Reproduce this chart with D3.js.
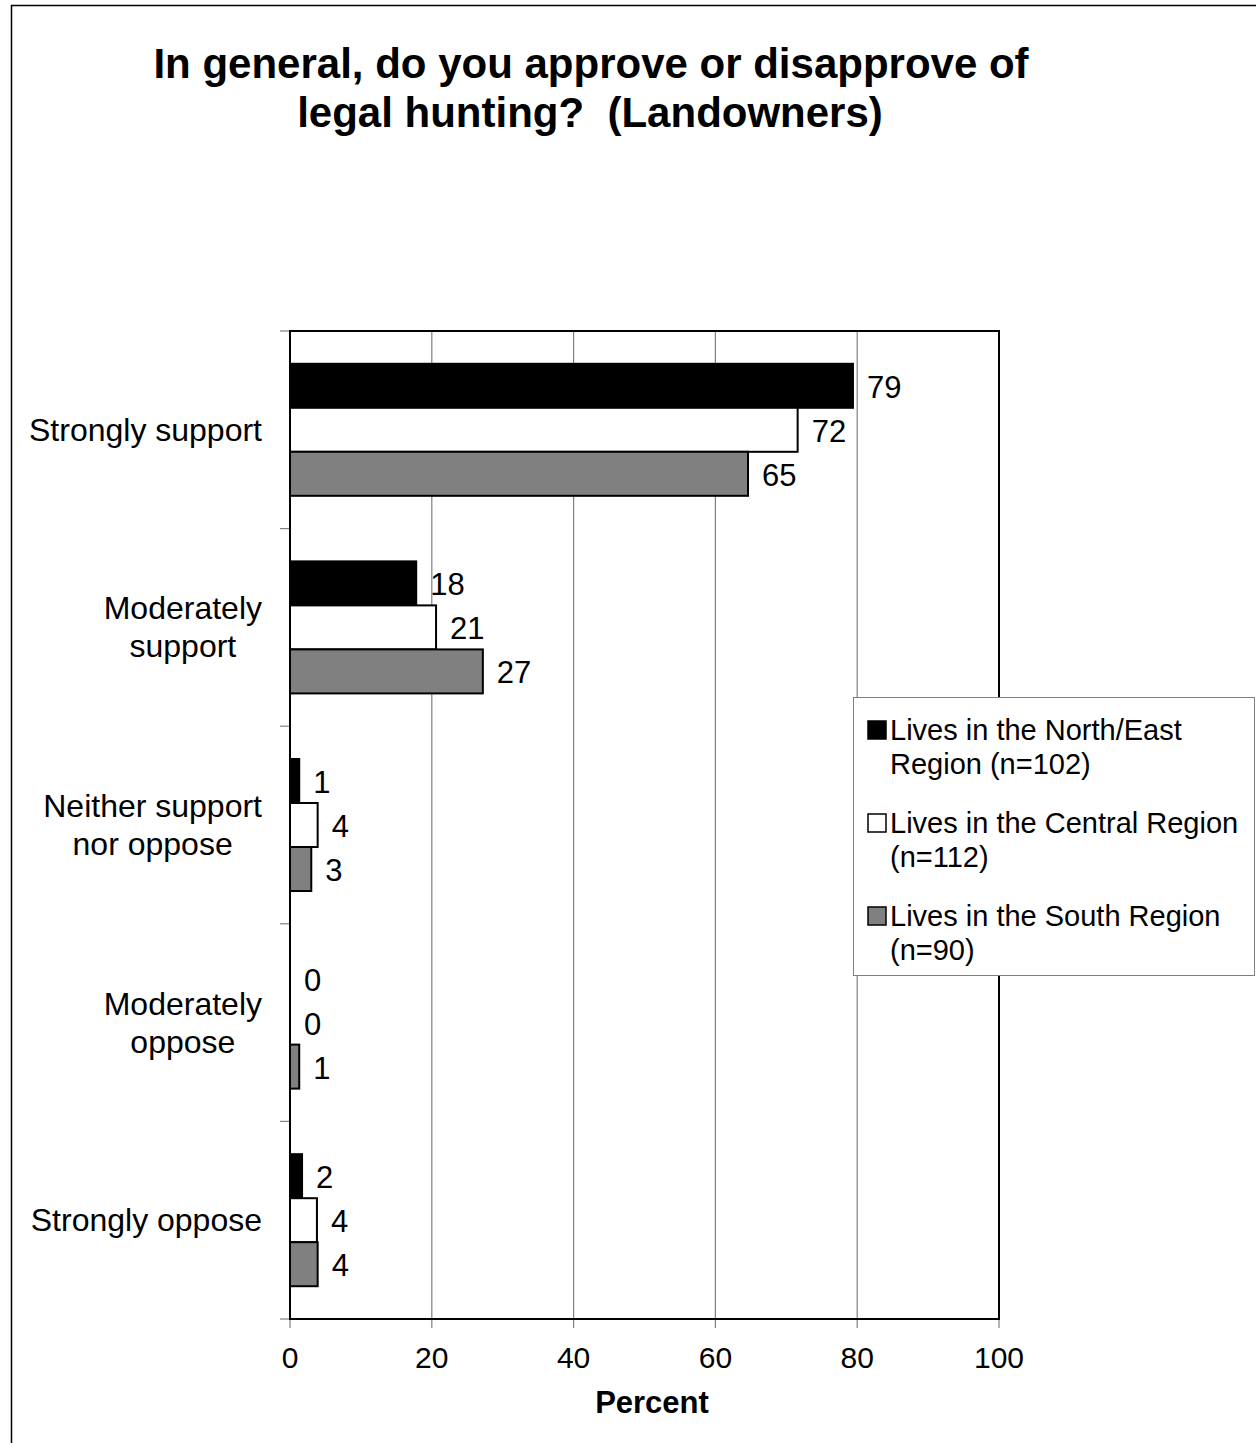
<!DOCTYPE html>
<html><head><meta charset="utf-8">
<script src="https://cdn.jsdelivr.net/npm/d3@7"></script>
<style>body{margin:0;background:#fff}svg{display:block}text{font-family:"Liberation Sans",Arial,sans-serif}</style>
</head><body>
<svg id="c" width="1256" height="1443"></svg>
<script>
const categories = ["Strongly support", "Moderately support", "Neither support nor oppose", "Moderately oppose", "Strongly oppose"];
const categoryLines = [["Strongly support"], ["Moderately", "support"], ["Neither support", "nor oppose"], ["Moderately", "oppose"], ["Strongly oppose"]];
const seriesNames = ["Lives in the North/East Region (n=102)", "Lives in the Central Region (n=112)", "Lives in the South Region (n=90)"];
const legendLines = [["Lives in the North/East", "Region (n=102)"], ["Lives in the Central Region", "(n=112)"], ["Lives in the South Region", "(n=90)"]];
const northEast = [79.4, 17.8, 1.3, 0, 1.7];
const central = [71.6, 20.6, 3.9, 0, 3.8];
const south = [64.6, 27.2, 3.0, 1.3, 3.9];
const xTicks = [0, 20, 40, 60, 80, 100];
const colors = ["#000000", "#ffffff", "#808080"];

const series = [northEast, central, south];
const svg = d3.select("#c");
const L = 290, R = 999, T = 331, B = 1319;

// outer frame
svg.append("rect").attr("x", 11.5).attr("y", 5.5).attr("width", 1260).attr("height", 1460)
  .attr("fill", "none").attr("stroke", "#000").attr("stroke-width", 1.5);

// title
const title = svg.append("text").attr("text-anchor", "middle").attr("font-weight", "bold").attr("font-size", 42);
title.append("tspan").attr("x", 591).attr("y", 78).text("In general, do you approve or disapprove of");
title.append("tspan").attr("x", 590).attr("y", 127).text("legal hunting?\u00a0 (Landowners)");

const x = d3.scaleLinear().domain([0, 100]).range([L, R]);
const y0 = d3.scaleBand().domain(categories).range([T, B]);
const y1 = d3.scaleBand().domain(d3.range(3)).range([0, y0.bandwidth()]).paddingInner(0).paddingOuter(0.745);

// gridlines
svg.append("g").selectAll("line").data(xTicks.slice(1, -1)).join("line")
  .attr("x1", d => x(d)).attr("x2", d => x(d)).attr("y1", T).attr("y2", B)
  .attr("stroke", "#808080").attr("stroke-width", 1.2);

// x axis ticks
svg.append("g").selectAll("line").data(xTicks).join("line")
  .attr("x1", d => x(d)).attr("x2", d => x(d)).attr("y1", B).attr("y2", B + 9)
  .attr("stroke", "#808080").attr("stroke-width", 1.2);
svg.append("g").selectAll("text").data(xTicks).join("text")
  .attr("x", d => x(d)).attr("y", 1368).attr("text-anchor", "middle").attr("font-size", 30).text(d => d);
svg.append("text").attr("x", 652).attr("y", 1413).attr("text-anchor", "middle").attr("font-weight", "bold").attr("font-size", 31).text("Percent");

// y ticks at boundaries
const bounds = categories.map(c => y0(c)).concat([B]);
svg.append("g").selectAll("line").data(bounds).join("line")
  .attr("x1", L - 10).attr("x2", L).attr("y1", d => d).attr("y2", d => d)
  .attr("stroke", "#808080").attr("stroke-width", 1.2);

// category labels (multi-line blocks centred, block right-aligned)
categories.forEach((c, i) => {
  const lines = categoryLines[i];
  const cy = y0(c) + y0.bandwidth() / 2;
  const lh = 38;
  const t = svg.append("text").attr("font-size", 32);
  const spans = lines.map((ln, j) => t.append("tspan").attr("y", cy + 11 + (j - (lines.length - 1) / 2) * lh).text(ln));
  const widths = spans.map(s => s.node().getComputedTextLength());
  const maxW = d3.max(widths);
  const centre = 262 - maxW / 2;
  t.attr("text-anchor", "middle");
  spans.forEach(s => s.attr("x", centre));
});

// bars
series.forEach((vals, s) => {
  const g = svg.append("g");
  g.selectAll("rect").data(vals).join("rect")
    .attr("x", x(0)).attr("y", (d, i) => y0(categories[i]) + y1(s))
    .attr("width", d => x(d) - x(0)).attr("height", y1.bandwidth())
    .attr("fill", colors[s]).attr("stroke", "#000").attr("stroke-width", d => d > 0 ? 2 : 0);
  g.selectAll("text").data(vals).join("text")
    .attr("x", d => x(d) + 14).attr("y", (d, i) => y0(categories[i]) + y1(s) + y1.bandwidth() / 2 + 12)
    .attr("font-size", 31).text(d => d3.format(".0f")(d));
});

// plot frame
svg.append("rect").attr("x", L).attr("y", T).attr("width", R - L).attr("height", B - T)
  .attr("fill", "none").attr("stroke", "#000").attr("stroke-width", 2);

// legend
const lg = svg.append("g");
lg.append("rect").attr("x", 853.5).attr("y", 697.5).attr("width", 401).attr("height", 278)
  .attr("fill", "#fff").attr("stroke", "#808080").attr("stroke-width", 1);
const legY = [740, 833, 926];
seriesNames.forEach((n, s) => {
  lg.append("rect").attr("x", 868).attr("y", legY[s] - 19).attr("width", 18).attr("height", 18)
    .attr("fill", colors[s]).attr("stroke", "#000").attr("stroke-width", 1.5);
  const t = lg.append("text").attr("font-size", 29);
  legendLines[s].forEach((ln, j) => {
    t.append("tspan").attr("x", 890).attr("y", legY[s] + j * 34).text(ln);
  });
});
</script>
</body></html>
